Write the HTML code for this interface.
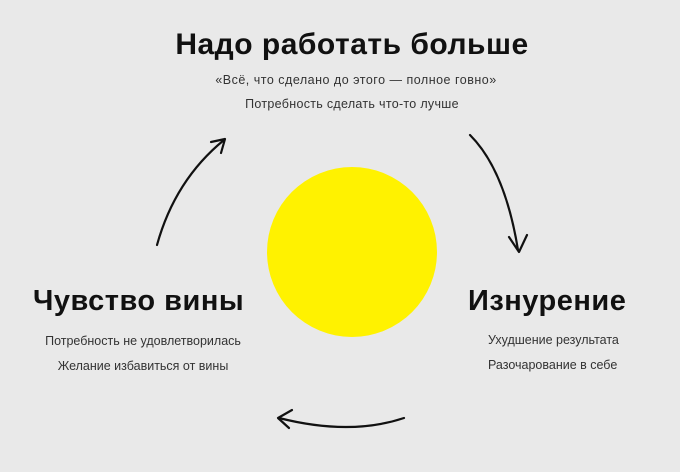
<!DOCTYPE html>
<html><head><meta charset="utf-8"><style>
body{margin:0;width:680px;height:472px;background:#e9e9e9;font-family:"Liberation Sans","DejaVu Sans",sans-serif;color:#111;position:relative;overflow:hidden}
.t{position:absolute;white-space:nowrap;font-weight:bold;letter-spacing:0.5px}
.s{position:absolute;white-space:nowrap;font-size:12.5px;color:#333}
</style></head><body>
<div class="t" style="left:0;width:704px;text-align:center;top:28px;font-size:30px">Надо работать больше</div>
<div class="s" style="left:0;width:712px;text-align:center;top:73px;letter-spacing:0.5px">«Всё, что сделано до этого — полное говно»</div>
<div class="s" style="left:0;width:704px;text-align:center;top:97px;letter-spacing:0.3px">Потребность сделать что-то лучше</div>
<div class="t" style="left:33px;top:285px;font-size:29px">Чувство вины</div>
<div class="s" style="left:0;width:286px;text-align:center;top:334px">Потребность не удовлетворилась</div>
<div class="s" style="left:0;width:286px;text-align:center;top:359px">Желание избавиться от вины</div>
<div class="t" style="left:468px;top:285px;font-size:29px">Изнурение</div>
<div class="s" style="left:488px;top:333px">Ухудшение результата</div>
<div class="s" style="left:488px;top:358px">Разочарование в себе</div>
<svg width="680" height="472" style="position:absolute;left:0;top:0">
<circle cx="352" cy="252" r="85" fill="#fff200"/>
<g fill="none" stroke="#111" stroke-width="2.2" stroke-linecap="round" stroke-linejoin="round">
<path d="M470 135 Q505 170 518 250"/><path d="M509 237 L519 252 L527 235"/>
<path d="M157 245 Q175 180 224 140"/><path d="M211 142 L225 139 L221 153"/>
<path d="M404 418 Q350 436 279 418"/><path d="M292 410 L278 418 L289 428"/>
</g>
</svg>
</body></html>
